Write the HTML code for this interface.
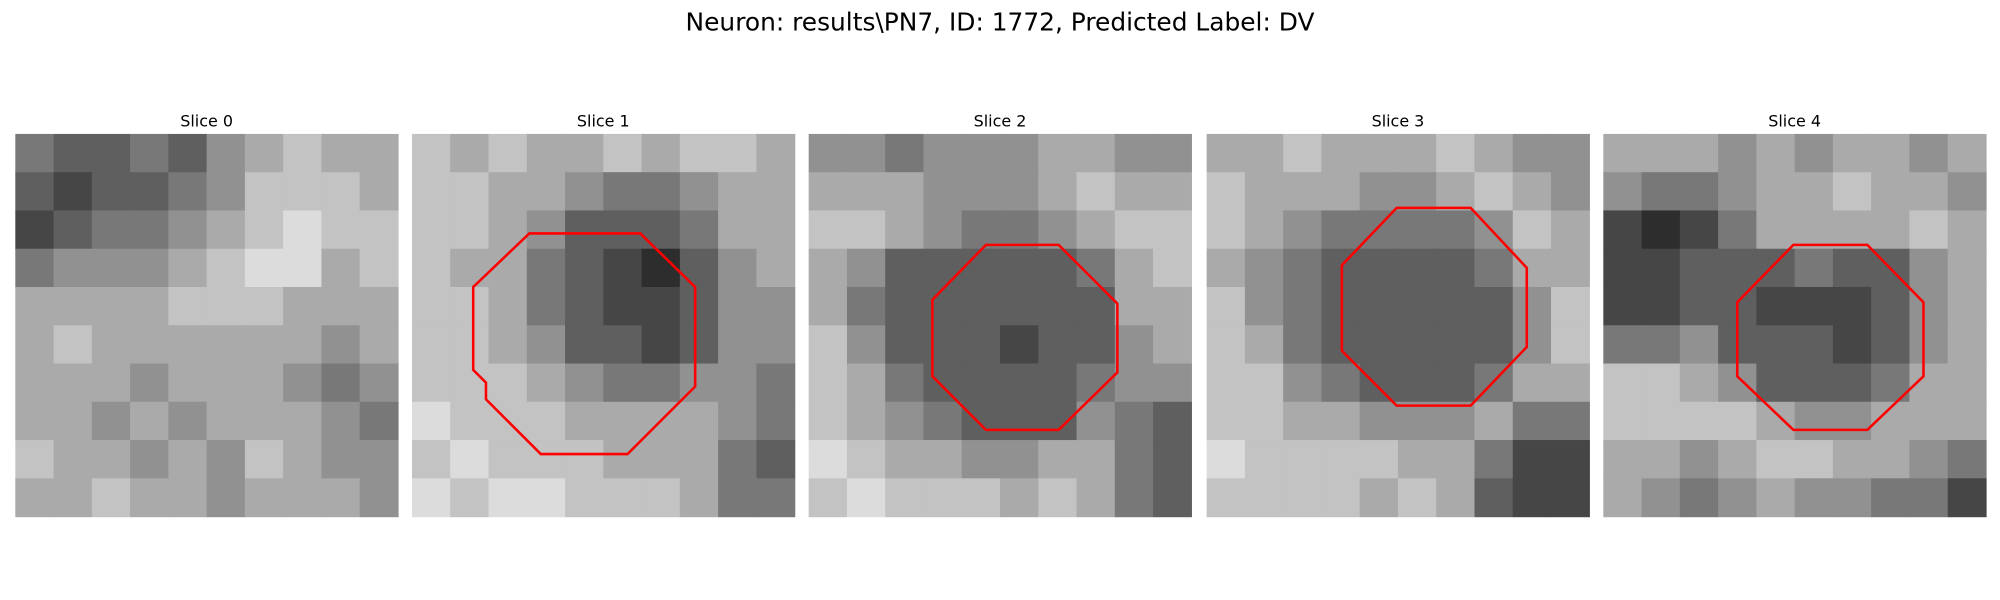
<!DOCTYPE html>
<html><head><meta charset="utf-8"><style>
html,body{margin:0;padding:0;background:#fff;}
svg{display:block;}
text{font-family:"DejaVu Sans","Liberation Sans",sans-serif;fill:#000;}
</style></head><body>
<svg id="fig" width="2000" height="600" viewBox="0 0 1568 470.4" xmlns="http://www.w3.org/2000/svg">
<rect width="1568" height="470.4" fill="#fff"/>
<text x="784" y="24" font-size="19.5" text-anchor="middle">Neuron: results\PN7, ID: 1772, Predicted Label: DV</text>
<g id="panels"></g>
</svg>
<script>
const panelX = [12, 323, 634, 946, 1257];
const panelTitles = ["Slice 0","Slice 1","Slice 2","Slice 3","Slice 4"];
const grids = [
["4334356766","3233457776","2344567877","4555678867","6666777666","6766666656","6665666545","6656566654","7665657655","6676656665"],
["7676676776","7766544566","7765333466","7664321356","7764322355","7765332355","7776544554","8777666654","7877766643","8788777644"],
["5545556655","6665556766","7765445677","6533333467","6433333366","7533323356","7643333455","7654333543","8766556643","7877767643"],
["6676667655","7666556765","7654444576","6543333466","7543333357","7643333357","7754333466","7766555644","8777766422","7777676322"],
["6665656656","5445667665","2124666676","2233343356","2233222356","4453332356","7765333466","7777655666","6656776654","6545655442"]
];
const polygons = [
null,
[[415,183],[502,183],[545,225],[545,303],[492,356],[424,356],[381,313],[381,300],[371,290],[371,225]],
[[773,192],[830,192],[876,238],[876,292],[830,337],[773,337],[731,295],[731,235]],
[[1095,163],[1153,163],[1197,210],[1197,272],[1153,318],[1095,318],[1052,275],[1052,208]],
[[1406,192],[1464,192],[1508,237],[1508,295],[1464,337],[1406,337],[1362,295],[1362,237]]
];
const NS="http://www.w3.org/2000/svg";
const g=document.getElementById('panels');
const top0=105, size=300;
panelX.forEach((px,i)=>{
  const pg=document.createElementNS(NS,'g');
  
  
  const t=document.createElementNS(NS,'text');
  t.setAttribute('x',px+size/2);t.setAttribute('y',99);
  t.setAttribute('font-size','12.5');t.setAttribute('text-anchor','middle');
  t.textContent=panelTitles[i];
  
  
  pg.appendChild(t);
  const grid=grids[i];const n=grid.length;const c=size/n;
  grid.forEach((row,r)=>{
    [...row].forEach((d,k)=>{
      const v=Math.min(255,25*(+d)+20);
      const rc=document.createElementNS(NS,'rect');
      rc.setAttribute('x',px+k*c);rc.setAttribute('y',top0+r*c);
      rc.setAttribute('width',c+0.5);rc.setAttribute('height',c+0.5);
      rc.setAttribute('fill',`rgb(${v},${v},${v})`);
      
      
      pg.appendChild(rc);
    });
  });
  if(polygons[i]){
    const p=document.createElementNS(NS,'polygon');
    p.setAttribute('points',polygons[i].map(q=>q.join(',')).join(' '));
    p.setAttribute('fill','none');p.setAttribute('stroke','#ff0000');p.setAttribute('stroke-width','2');
    
    
    pg.appendChild(p);
  }
  g.appendChild(pg);
});
</script>
</body></html>
